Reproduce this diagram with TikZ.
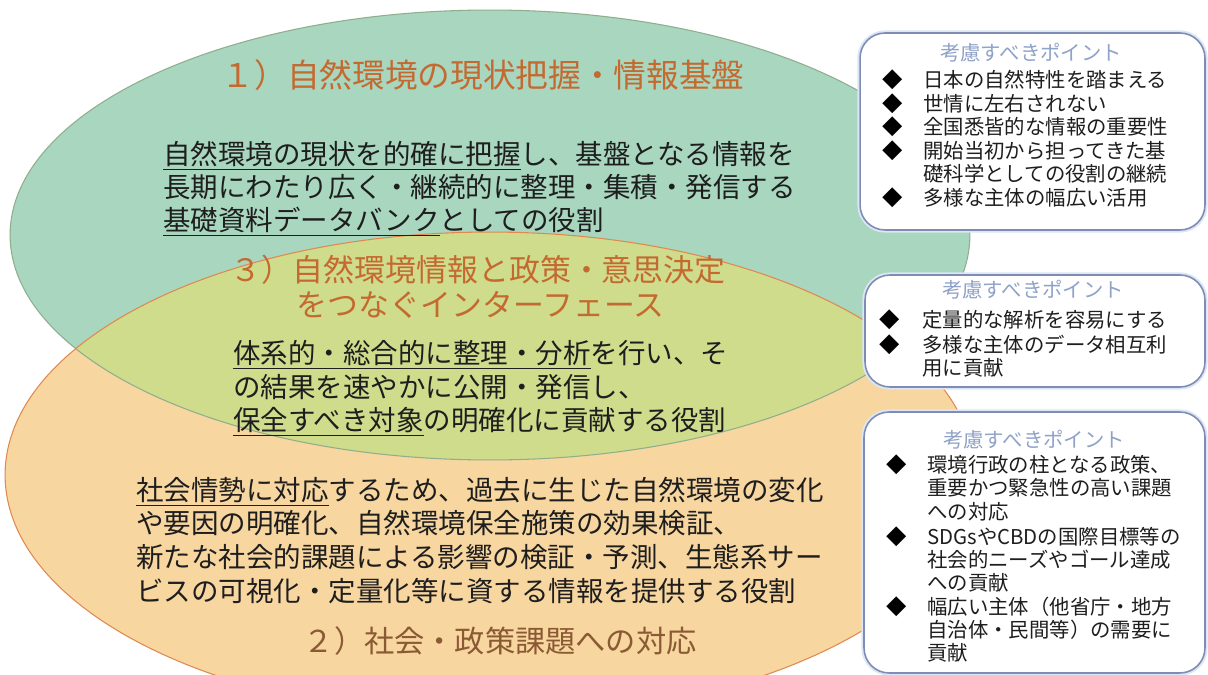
\documentclass[tikz,border=0pt]{standalone}
\usepackage{fontspec}
\newfontfamily\jp{Noto Sans CJK JP}
\definecolor{grn}{HTML}{A8D6BE}
\definecolor{org}{HTML}{F8D6A0}
\definecolor{ovl}{HTML}{CEDC8C}
\definecolor{grnline}{HTML}{8FAE8E}
\definecolor{orgline}{HTML}{E08850}
\definecolor{ttl}{HTML}{C46A30}
\definecolor{ttltwo}{HTML}{8A5A34}
\definecolor{boxline}{HTML}{7F8DB5}
\definecolor{boxglow}{HTML}{DCE6F4}
\definecolor{hdrc}{HTML}{8FA2C8}
\definecolor{txt}{HTML}{1E1E1E}
\tikzset{
  bodytxt/.style={anchor=base west, inner sep=0pt, text=txt, font=\jp\fontsize{15.65}{18}\selectfont},
  titletxt/.style={anchor=base east, inner sep=0pt, text=ttl, font=\jp\fontsize{17.6}{20}\selectfont},
  ptbox/.style={draw=boxline, line width=0.9pt, fill=white, rounded corners=0.5cm, inner sep=0pt,
    preaction={draw=boxglow, line width=3pt}},
  hdrtxt/.style={anchor=base, inner sep=0pt, text=hdrc, font=\jp\fontsize{11.6}{13}\selectfont},
  btxt/.style={anchor=base west, inner sep=0pt, text=txt, font=\jp\fontsize{11.6}{13}\selectfont},
  dia/.style={anchor=base, inner sep=0pt, text=black, font=\jp\fontsize{11.6}{13}\selectfont},
}
\begin{document}
\begin{tikzpicture}[x=0.02cm, y=-0.02cm]
\useasboundingbox (0,0) rectangle (1208,675);
\fill[white] (0,0) rectangle (1208,675);
% ellipses
\fill[grn] (490,235) ellipse [x radius=9.6cm, y radius=4.5cm];
\fill[org] (490,475) ellipse [x radius=9.7cm, y radius=4.86cm];
\begin{scope}
  \clip (490,475) ellipse [x radius=9.7cm, y radius=4.86cm];
  \fill[ovl] (490,235) ellipse [x radius=9.6cm, y radius=4.5cm];
\end{scope}
\draw[grnline, line width=0.6pt] (490,235) ellipse [x radius=9.6cm, y radius=4.5cm];
\draw[orgline, line width=0.6pt] (490,475) ellipse [x radius=9.7cm, y radius=4.86cm];

% titles
\node[titletxt, font=\jp\fontsize{18.6}{21}\selectfont] (t1) at (745,88) {１）自然環境の現状把握・情報基盤};
\node[titletxt] (t3a) at (726,282) {３）自然環境情報と政策・意思決定};
\node[titletxt] (t3b) at (665,317) {をつなぐインターフェース};
\node[titletxt, text=ttltwo, font=\jp\fontsize{17.2}{19}\selectfont] (t2) at (697,653) {２）社会・政策課題への対応};

% body 1
\node[bodytxt] (b1a) at (163,165) {\underline{自然環境の現状を的確に把握}し、基盤となる情報を};
\node[bodytxt] (b1b) at (163,198) {長期にわたり広く・継続的に整理・集積・発信する};
\node[bodytxt] (b1c) at (163,230.5) {\underline{基礎資料データバンク}としての役割};
% body 3
\node[bodytxt] (b3a) at (233,363.5) {\underline{体系的・総合的に整理・分析}を行い、そ};
\node[bodytxt] (b3b) at (233,397.5) {の結果を速やかに公開・発信し、};
\node[bodytxt] (b3c) at (233,431) {\underline{保全すべき対象}の明確化に貢献する役割};
% body 2
\node[bodytxt] (b2a) at (136,500.5) {\underline{社会情勢に対応}するため、過去に生じた自然環境の変化};
\node[bodytxt] (b2b) at (136,534) {や要因の明確化、自然環境保全施策の効果検証、};
\node[bodytxt] (b2c) at (136,567.5) {新たな社会的課題による影響の検証・予測、生態系サー};
\node[bodytxt] (b2d) at (136,601.5) {ビスの可視化・定量化等に資する情報を提供する役割};

% box 1
\node[ptbox, minimum width=6.9cm, minimum height=3.94cm] (box1) at (1032.5,131.5) {};
\node[hdrtxt] (h1) at (1031,61) {考慮すべきポイント};
\node[dia] (d11) at (893,88) {◆};
\node[btxt] (l11) at (923,88) {日本の自然特性を踏まえる};
\node[dia] (d12) at (893,111.5) {◆};
\node[btxt] (l12) at (923,111.5) {世情に左右されない};
\node[dia] (d13) at (893,135) {◆};
\node[btxt] (l13) at (923,135) {全国悉皆的な情報の重要性};
\node[dia] (d14) at (893,158.5) {◆};
\node[btxt] (l14) at (923,158.5) {開始当初から担ってきた基};
\node[btxt] (l15) at (923,182) {礎科学としての役割の継続};
\node[dia] (d16) at (893,206) {◆};
\node[btxt] (l16) at (923,206) {多様な主体の幅広い活用};

% box 2
\node[ptbox, minimum width=6.8cm, minimum height=2.24cm] (box2) at (1035,331) {};
\node[hdrtxt] (h2) at (1033,297.75) {考慮すべきポイント};
\node[dia] (d21) at (890,327.75) {◆};
\node[btxt] (l21) at (922,327.75) {定量的な解析を容易にする};
\node[dia] (d22) at (890,352.75) {◆};
\node[btxt] (l22) at (922,352.75) {多様な主体のデータ相互利};
\node[btxt] (l23) at (922,375.75) {用に貢献};

% box 3
\node[ptbox, minimum width=6.82cm, minimum height=5.22cm] (box3) at (1034.5,542.5) {};
\node[hdrtxt] (h3) at (1034,447.75) {考慮すべきポイント};
\node[dia] (d31) at (897,472.75) {◆};
\node[btxt] (l31) at (927,472.75) {環境行政の柱となる政策、};
\node[btxt] (l32) at (927,495.75) {重要かつ緊急性の高い課題};
\node[btxt] (l33) at (927,519.75) {への対応};
\node[dia] (d34) at (897,544.75) {◆};
\node[btxt] (l34) at (927,544.75) {SDGsやCBDの国際目標等の};
\node[btxt] (l35) at (927,567.75) {社会的ニーズやゴール達成};
\node[btxt] (l36) at (927,590.75) {への貢献};
\node[dia] (d37) at (897,614.75) {◆};
\node[btxt] (l37) at (927,614.75) {幅広い主体（他省庁・地方};
\node[btxt] (l38) at (927,637.75) {自治体・民間等）の需要に};
\node[btxt] (l39) at (927,660.75) {貢献};
\end{tikzpicture}
\end{document}
